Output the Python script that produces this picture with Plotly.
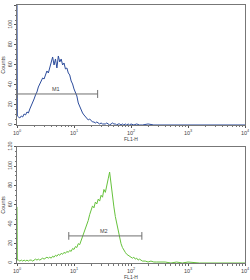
import math
import plotly.graph_objects as go

# ---- data (log10 FL1-H channel positions, counts) ----
top_logx = [0.0, 0.006, 0.025, 0.05, 0.075, 0.1, 0.125, 0.15, 0.175, 0.2, 0.225, 0.25, 0.275, 0.3, 0.325,
            0.35, 0.375, 0.4, 0.425, 0.45, 0.475, 0.5, 0.525, 0.55, 0.575, 0.6, 0.625, 0.65, 0.675,
            0.7, 0.725, 0.75, 0.775, 0.8, 0.825, 0.85, 0.875, 0.9, 0.925, 0.95, 0.975, 1.0, 1.025,
            1.05, 1.075, 1.1, 1.125, 1.15, 1.175, 1.2, 1.225, 1.25, 1.275, 1.3, 1.325, 1.35, 1.375,
            1.4, 1.425, 1.45, 1.475, 1.5, 1.525, 1.55, 1.575, 1.6, 1.625, 1.65, 1.675, 1.7, 1.725,
            1.75, 1.775, 1.8, 1.825, 1.85, 1.875, 1.9, 1.925, 1.95, 1.975, 2.0, 2.05, 2.1, 2.15,
            2.2, 2.3, 2.4, 2.5, 3.0, 3.5, 4.0]
top_counts = [120, 9, 8, 7, 9, 8, 11, 10, 13, 12, 16, 19, 22, 26, 30,
              33, 38, 41, 44, 47, 46, 51, 54, 52, 57, 62, 68, 60, 66,
              57, 69, 63, 66, 60, 62, 56, 57, 52, 50, 44, 41, 36, 32,
              29, 22, 18, 15, 12, 10, 8, 7, 5, 6, 4, 3, 3, 2,
              3, 2, 1, 2, 1, 1, 1, 2, 1, 0, 1, 2, 1, 1,
              0, 1, 1, 0, 1, 0, 1, 0, 1, 0, 1, 0, 1, 0,
              0, 1, 0, 0, 0, 0, 0]

bot_logx = [0.0, 0.006, 0.025, 0.05, 0.075, 0.1, 0.125, 0.15, 0.175, 0.2, 0.225, 0.25, 0.275, 0.3, 0.325,
            0.35, 0.375, 0.4, 0.425, 0.45, 0.475, 0.5, 0.525, 0.55, 0.575, 0.6, 0.625, 0.65, 0.675,
            0.7, 0.725, 0.75, 0.775, 0.8, 0.825, 0.85, 0.875, 0.9, 0.925, 0.95, 0.975, 1.0, 1.025,
            1.05, 1.075, 1.1, 1.125, 1.15, 1.175, 1.2, 1.225, 1.25, 1.275, 1.3, 1.325, 1.35, 1.375,
            1.4, 1.425, 1.45, 1.475, 1.5, 1.525, 1.55, 1.575, 1.6, 1.625, 1.65, 1.675, 1.7, 1.725,
            1.75, 1.775, 1.8, 1.825, 1.85, 1.875, 1.9, 1.925, 1.95, 1.975, 2.0, 2.025, 2.05, 2.075,
            2.1, 2.125, 2.15, 2.175, 2.2, 2.25, 2.3, 2.35, 2.4, 2.45, 2.5, 2.6, 2.7, 2.8, 2.9, 3.0,
            3.2, 3.5, 4.0]
bot_counts = [58, 3, 3, 2, 3, 2, 3, 2, 3, 2, 3, 3, 2, 3, 4,
              3, 4, 3, 4, 5, 4, 5, 6, 5, 6, 5, 7, 6, 8,
              7, 9, 8, 10, 9, 11, 10, 12, 11, 13, 12, 15, 14, 17,
              16, 20, 19, 23, 26, 31, 35, 40, 44, 50, 56, 59, 57, 63,
              61, 66, 64, 70, 68, 76, 73, 82, 87, 94, 80, 68, 58, 48,
              40, 32, 26, 20, 16, 13, 11, 9, 8, 7, 6, 5, 6, 4,
              5, 3, 4, 3, 2, 2, 1, 2, 1, 1, 1, 1, 0, 1, 0, 1,
              0, 0, 0]

# gate markers (FL1-H range, count level, label position)
m1_range = [1.0, 26.0]
m1_level = 31
m1_label_x = 4.8
m2_range = [8.1, 155.0]
m2_level = 28
m2_label_x = 34.0

x_tickvals = [1, 10, 100, 1000, 10000]
x_ticktext = ["10<sup>0</sup>", "10<sup>1</sup>", "10<sup>2</sup>", "10<sup>3</sup>", "10<sup>4</sup>"]
y_tickvals = [0, 20, 40, 60, 80, 100, 120]

FONT = "Liberation Sans, Arial, sans-serif"
FS = 5.5
fig = go.Figure()

fig.add_trace(go.Scatter(x=[10 ** v for v in top_logx], y=top_counts, mode="lines",
                         line=dict(color="#2c4c9c", width=1), xaxis="x", yaxis="y", showlegend=False))
fig.add_trace(go.Scatter(x=[10 ** v for v in bot_logx], y=bot_counts, mode="lines",
                         line=dict(color="#66c23c", width=1), xaxis="x2", yaxis="y2", showlegend=False))

gate_col = "#707070"
for (rng, lvl, lx, xa, ya, name) in [(m1_range, m1_level, m1_label_x, "x", "y", "M1"),
                                     (m2_range, m2_level, m2_label_x, "x2", "y2", "M2")]:
    fig.add_trace(go.Scatter(x=[rng[0], rng[1]], y=[lvl, lvl], mode="lines",
                             line=dict(color=gate_col, width=1), xaxis=xa, yaxis=ya, showlegend=False))
    for xe in rng:
        fig.add_trace(go.Scatter(x=[xe, xe], y=[lvl - 4, lvl + 4], mode="lines",
                                 line=dict(color=gate_col, width=1), xaxis=xa, yaxis=ya, showlegend=False))
    fig.add_annotation(x=math.log10(lx), y=lvl, xref=xa, yref=ya,
                       text=name, showarrow=False, yshift=5, font=dict(size=FS, color="#444", family=FONT))

axis_common = dict(showline=True, linecolor="#777", linewidth=1, mirror=True, showgrid=False, zeroline=False,
                   ticks="outside", ticklen=2, tickcolor="#555", automargin=False, layer="below traces",
                   tickfont=dict(size=FS, color="#444", family=FONT))

xcommon = dict(axis_common, type="log", range=[0, 4], tickvals=x_tickvals, ticktext=x_ticktext,
               minor=dict(ticks="outside", ticklen=1.5, tickcolor="#777", dtick="D1"),
               title=dict(text="FL1-H", font=dict(size=5, color="#444", family=FONT), standoff=2))
ycommon = dict(axis_common, range=[0, 120], tickvals=y_tickvals, tickangle=-90,
               minor=dict(ticks="outside", ticklen=1.5, tickcolor="#777", dtick=5),
               title=dict(text="Counts", font=dict(size=FS, color="#444", family=FONT), standoff=1))

fig.update_layout(
    width=250, height=280, margin=dict(l=17, r=5, t=5, b=17),
    paper_bgcolor="white", plot_bgcolor="white",
    xaxis=dict(xcommon, domain=[0, 1], anchor="y"),
    yaxis=dict(ycommon, domain=[0.535, 1], anchor="x"),
    xaxis2=dict(xcommon, domain=[0, 1], anchor="y2"),
    yaxis2=dict(ycommon, domain=[0, 0.45], anchor="x2"),
)

fig.write_html("out.html")
